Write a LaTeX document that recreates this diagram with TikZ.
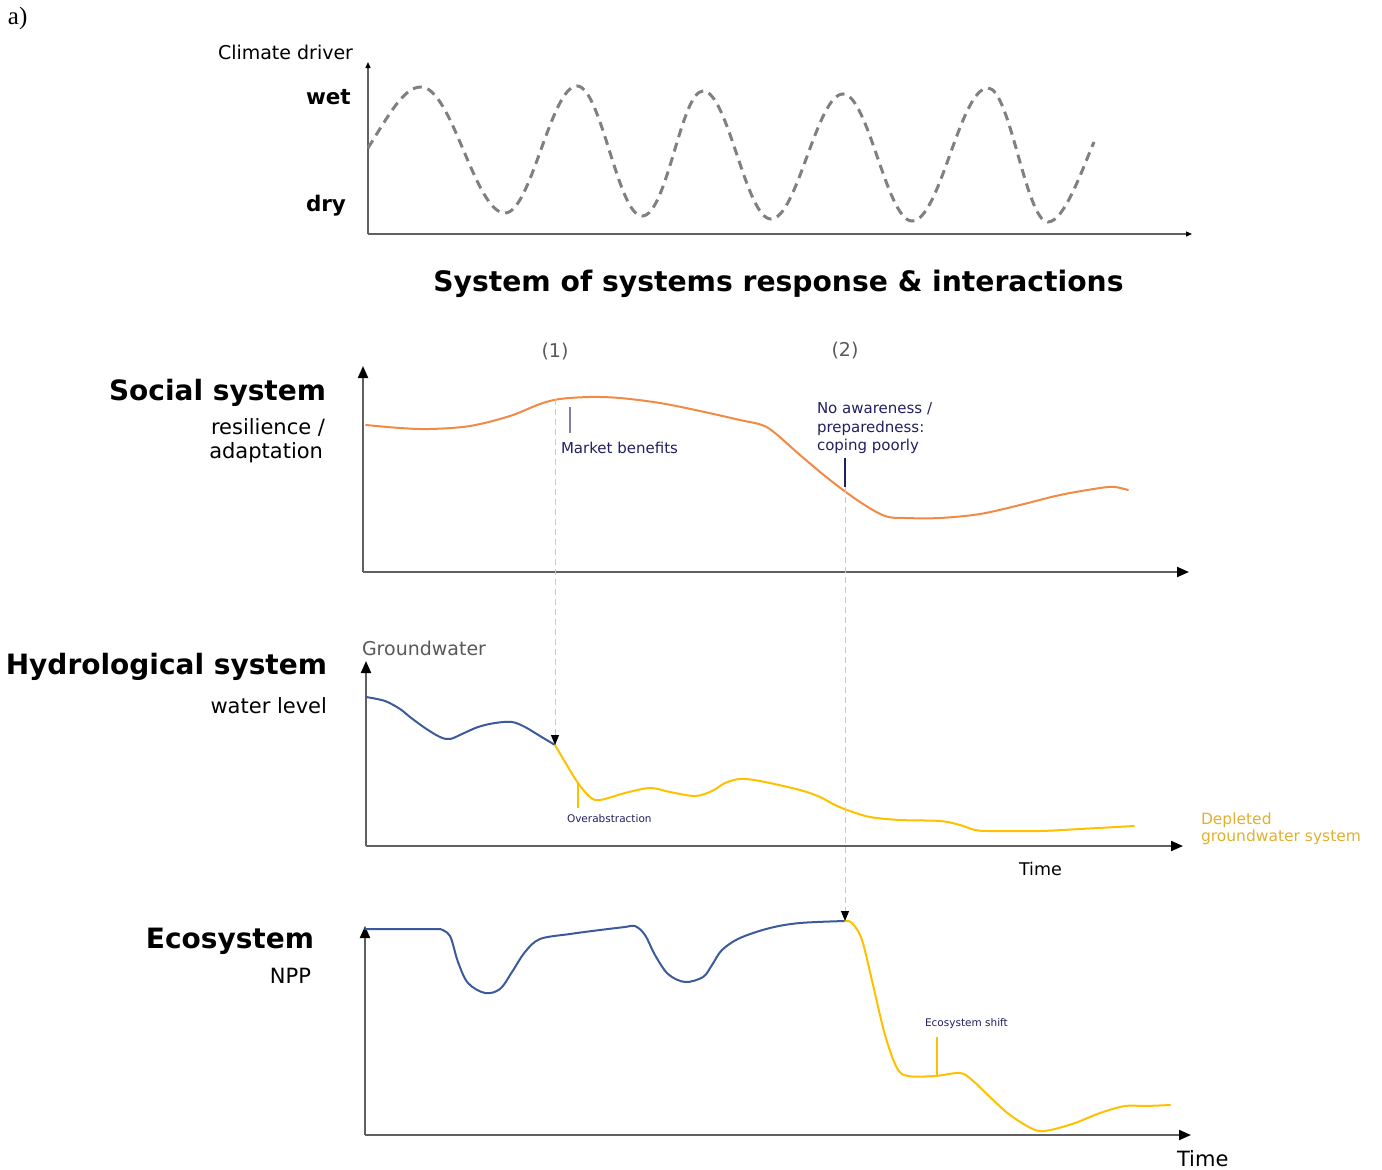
\documentclass[tikz,border=0pt]{standalone}
\usepackage{fontspec}
\setmainfont{DejaVu Sans}
\newfontfamily\serifa{Liberation Serif}
\usetikzlibrary{arrows.meta}
\definecolor{orng}{HTML}{F08A45}
\definecolor{blu}{HTML}{3A5A9C}
\definecolor{gold}{HTML}{FFC000}
\definecolor{dgold}{HTML}{E0B030}
\definecolor{navy}{HTML}{202060}
\definecolor{tickblue}{HTML}{8080A8}
\definecolor{axgray}{HTML}{606060}
\definecolor{txtgray}{HTML}{595959}
\definecolor{sinegray}{HTML}{808080}
\definecolor{dashgray}{HTML}{C8C8C8}
\tikzset{
  lbl/.style={inner sep=0pt, outer sep=0pt},
  bigtitle/.style={lbl, font=\fontsize{28}{34}\selectfont\bfseries},
  subtitle/.style={lbl, font=\fontsize{21}{25}\selectfont},
  smalllbl/.style={lbl, font=\fontsize{15}{18}\selectfont, text=navy},
  tinylbl/.style={lbl, font=\fontsize{10.5}{13}\selectfont, text=navy},
  mainaxis/.style={draw=axgray, line width=2pt, -{Triangle[length=12pt,width=10pt,color=black]}},
  topaxis/.style={draw=axgray, line width=1.3pt, -{Triangle[length=6pt,width=5pt,color=black]}},
  curve/.style={line width=2pt, line cap=round, line join=round},
  link/.style={draw=dashgray, line width=1pt, dash pattern=on 6pt off 4pt, -{Triangle[length=10pt,width=8pt,color=black]}},
  marker/.style={line width=1.2pt},
}
\begin{document}
\begin{tikzpicture}[x=1pt,y=-1pt]
\useasboundingbox (0,0) rectangle (1382,1170);

% panel label
\node[lbl, anchor=base west, font=\serifa\fontsize{25}{28}\selectfont] (lab) at (8,24) {a)};

% ---------- Climate driver ----------
\node[lbl, anchor=base west, font=\fontsize{19}{22}\selectfont] (cd) at (218,59.5) {Climate driver};
\node[lbl, anchor=base west, font=\fontsize{21.5}{24}\selectfont\bfseries] (wet) at (306,104) {wet};
\node[lbl, anchor=base west, font=\fontsize{21.5}{24}\selectfont\bfseries] (dry) at (306,211) {dry};
\coordinate (c0) at (368,234);
\coordinate (cy) at (368,62);
\coordinate (cx) at (1192,234);
\draw[topaxis] (c0) -- (cy);
\draw[topaxis] (c0) -- (cx);
\draw[sinegray, line width=3pt, dash pattern=on 9pt off 6pt]
  (368,148) .. controls (390,113) and (404,87) .. (421,87)
  .. controls (452,87) and (475,213) .. (505,213)
  .. controls (531,213) and (551,86) .. (577,86)
  .. controls (601,86) and (618,216) .. (642,216)
  .. controls (667,216) and (681,91) .. (703,91)
  .. controls (728,91) and (746,219) .. (771,219)
  .. controls (797,219) and (817,94) .. (843,94)
  .. controls (868,94) and (887,221) .. (912,221)
  .. controls (940,221) and (960,88) .. (988,88)
  .. controls (1010,88) and (1026,222) .. (1048,222)
  .. controls (1064,222) and (1082,170) .. (1094,142);

% ---------- Title ----------
\node[lbl, font=\fontsize{28.2}{34}\selectfont\bfseries, anchor=base] (title) at (778.5,291) {System of systems response \& interactions};

% ---------- Social system ----------
\node[bigtitle, anchor=base east] (soc) at (326,400) {Social system};
\node[subtitle, anchor=base east] (soc1) at (325,434) {resilience /};
\node[subtitle, anchor=base east] (soc2) at (323,458) {adaptation};
\coordinate (s0) at (363,572);
\coordinate (sy) at (363,366);
\coordinate (sx) at (1189,572);
\draw[mainaxis] (s0) -- (sy);
\draw[mainaxis] (s0) -- (sx);
\node[lbl, anchor=base, text=txtgray, font=\fontsize{19}{22}\selectfont] (p1) at (555,357) {(1)};
\node[lbl, anchor=base, text=txtgray, font=\fontsize{19}{22}\selectfont] (p2) at (845,356) {(2)};
\draw[orng, curve] plot[smooth, tension=0.55] coordinates {
 (366,425) (400,428) (430,429) (470,426) (510,416) (540,404) (560,399) (590,397)
 (620,398) (660,403) (700,411) (740,420) (762,425) (775,433) (800,455) (830,480)
 (860,502) (885,516) (905,518) (940,518) (980,514) (1020,505) (1060,495)
 (1100,488) (1115,487) (1128,490)};
\node[smalllbl, anchor=base west] (mb) at (561,453) {Market benefits};
\coordinate (mbt) at (570,407);
\coordinate (mbb) at (570,433);
\draw[tickblue, marker] (mbt) -- (mbb);
\node[smalllbl, anchor=base west] (na1) at (817,413) {No awareness /};
\node[smalllbl, anchor=base west] (na2) at (817,432) {preparedness:};
\node[smalllbl, anchor=base west] (na3) at (817,450) {coping poorly};
\coordinate (nat) at (845,458);
\coordinate (s2) at (845,487);
\draw[navy, marker] (nat) -- (s2);

% ---------- Hydrological system ----------
\node[bigtitle, anchor=base east] (hyd) at (327,674) {Hydrological system};
\node[subtitle, anchor=base east] (hyd1) at (327,713) {water level};
\node[lbl, anchor=base west, text=txtgray, font=\fontsize{19}{22}\selectfont] (gw) at (362,655) {Groundwater};
\coordinate (h0) at (366,846);
\coordinate (hy) at (366,661);
\coordinate (hx) at (1183,846);
\draw[mainaxis] (h0) -- (hy);
\draw[mainaxis] (h0) -- (hx);
\draw[blu, curve] plot[smooth, tension=0.55] coordinates {
 (366,697) (385,701) (400,709) (410,717) (425,728) (440,737) (450,739) (462,734)
 (478,727) (495,723) (512,722) (525,727) (540,736) (555,745)};
\draw[gold, curve] plot[smooth, tension=0.55] coordinates {
 (555,745) (565,762) (578,783) (590,797) (600,800) (625,793) (650,788) (670,792)
 (695,796) (712,791) (725,783) (740,779) (760,781) (800,790) (820,797) (835,805)
 (850,811) (870,817) (900,820) (940,821) (960,825) (975,830) (990,831) (1040,831)
 (1080,829) (1134,826)};
\coordinate (ovt) at (578,783);
\coordinate (ovb) at (578,808);
\draw[gold, marker] (ovt) -- (ovb);
\node[tinylbl, anchor=base west] (ov) at (567,822) {Overabstraction};
\node[lbl, anchor=base west, text=dgold, font=\fontsize{15.5}{18}\selectfont] (dep1) at (1201,824) {Depleted};
\node[lbl, anchor=base west, text=dgold, font=\fontsize{15.5}{18}\selectfont] (dep2) at (1201,841) {groundwater system};
\node[lbl, anchor=base west, font=\fontsize{17.5}{20}\selectfont] (t1) at (1019,875) {Time};

% ---------- Ecosystem ----------
\node[bigtitle, anchor=base east] (eco) at (314,948) {Ecosystem};
\node[subtitle, anchor=base east] (eco1) at (311,983) {NPP};
\coordinate (e0) at (365,1135);
\coordinate (ey) at (365,926);
\coordinate (ex) at (1191,1135);
\draw[mainaxis] (e0) -- (ey);
\draw[mainaxis] (e0) -- (ex);
\draw[blu, curve] (365,929) -- (440,929) plot[smooth, tension=0.55] coordinates {
 (440,929) (450,936) (458,962) (468,983) (485,993) (500,989) (512,972) (525,952)
 (540,939) (570,934) (600,930) (625,927) (635,926) (645,935) (655,955) (668,974)
 (685,982) (703,977) (712,965) (722,950) (740,938) (770,928) (800,923) (845,921)};
\draw[gold, curve] plot[smooth, tension=0.55] coordinates {
 (845,921) (852,923) (862,940) (873,985) (885,1035) (897,1068) (908,1076) (935,1076)
 (960,1073) (972,1080) (990,1097) (1010,1115) (1035,1130) (1050,1130) (1075,1123)
 (1100,1113) (1125,1106) (1145,1106) (1170,1105)};
\coordinate (est) at (937,1037);
\coordinate (esb) at (937,1076);
\draw[gold, marker] (est) -- (esb);
\node[tinylbl, anchor=base west] (es) at (925,1026) {Ecosystem shift};
\node[lbl, anchor=base west, font=\fontsize{21}{24}\selectfont] (t2) at (1177,1166) {Time};

% ---------- cross-system links ----------
\coordinate (s1) at (555,399);
\coordinate (h1) at (555,745);
\coordinate (e2) at (845,921);
\draw[link] (s1) -- (h1);
\draw[link] (s2) -- (e2);
\end{tikzpicture}
\end{document}
